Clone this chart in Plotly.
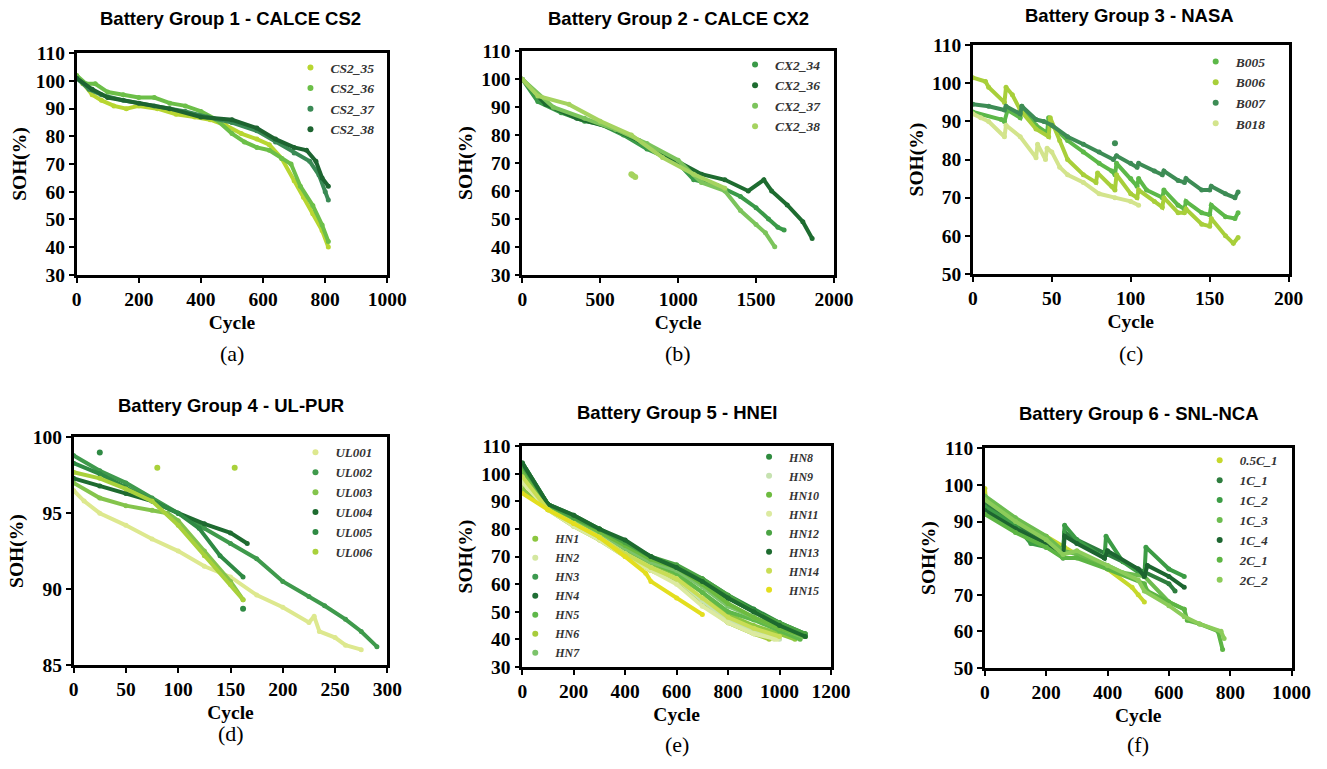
import plotly.graph_objects as go

# ---- Group 1 : CALCE CS2 ----
cs2_35_x = [0, 20, 50, 80, 120, 160, 200, 260, 320, 380, 430, 480, 530, 580, 620, 660, 700, 730, 760, 790, 810]
cs2_35_y = [102, 99, 95, 93, 91, 90, 91, 90, 88, 87, 86, 84, 81, 79, 77, 72, 64, 58, 52, 46, 40]
cs2_36_x = [0, 30, 60, 100, 150, 200, 250, 300, 350, 400, 450, 500, 540, 580, 620, 660, 690, 720, 760, 790, 810]
cs2_36_y = [102, 99, 99, 96, 95, 94, 94, 92, 91, 89, 86, 81, 78, 76, 75, 72, 70, 62, 55, 48, 42]
cs2_37_x = [0, 40, 80, 150, 250, 350, 420, 500, 580, 640, 700, 750, 780, 800, 810]
cs2_37_y = [101, 97, 95, 93, 91, 89, 87, 85, 82, 78, 74, 71, 66, 60, 57]
cs2_38_x = [0, 50, 100, 200, 300, 400, 500, 580, 640, 700, 740, 770, 790, 810]
cs2_38_y = [101, 97, 94, 92, 90, 87, 86, 83, 79, 76, 75, 71, 65, 62]

# ---- Group 2 : CALCE CX2 ----
cx2_34_x = [0, 100, 250, 400, 500, 650, 800, 1000, 1100, 1250, 1400, 1500, 1580, 1640, 1680]
cx2_34_y = [100, 92, 88, 85, 84, 80, 75, 70, 64, 62, 58, 54, 50, 47, 46]
cx2_36_x = [0, 150, 350, 550, 750, 950, 1150, 1300, 1450, 1550, 1600, 1700, 1800, 1860]
cx2_36_y = [100, 91, 86, 83, 78, 72, 66, 64, 60, 64, 60, 55, 49, 43]
cx2_37_x = [0, 200, 400, 600, 800, 1000, 1150, 1300, 1400, 1500, 1560, 1620]
cx2_37_y = [100, 90, 86, 82, 77, 71, 63, 60, 53, 48, 45, 40]
cx2_38_x = [0, 100, 300, 500, 700, 900, 1100, 1300]
cx2_38_y = [100, 94, 91, 85, 80, 72, 66, 61]
cx2_38_out_x = [700, 710, 725]
cx2_38_out_y = [66, 65.5, 65]

# ---- Group 3 : NASA ----
b005_x = [0, 18, 20, 22, 30, 31, 40, 47, 48, 50, 60, 70, 80, 88, 90, 91, 100, 104, 105, 110, 120, 121, 130, 134, 135, 145, 150, 151, 160, 166, 168]
b005_y = [92.5, 90.5, 90, 93, 91, 94, 89, 87, 91, 89, 85, 82, 79, 77, 76, 79, 75, 73, 75, 72, 70, 72, 68, 67, 69, 66, 65.5, 68, 65, 64.5, 66]
b006_x = [0, 8, 10, 20, 21, 25, 30, 40, 48, 49, 55, 60, 70, 78, 79, 88, 90, 91, 100, 104, 105, 115, 120, 121, 130, 134, 135, 145, 150, 151, 160, 165, 168]
b006_y = [101.5, 100.5, 99, 95, 99, 97, 93, 88, 86, 91, 85, 80, 76, 74, 76.5, 73, 72, 76, 71, 70, 72, 69, 67.5, 70, 66, 66, 67, 63, 62.5, 64.5, 60, 58, 59.5]
b007_x = [0, 10, 20, 21, 30, 31, 40, 45, 50, 60, 70, 80, 89, 91, 100, 104, 105, 115, 120, 121, 130, 134, 135, 145, 150, 151, 160, 166, 168]
b007_y = [94.5, 94, 93, 94, 92, 94, 90.5, 90, 89, 86, 84, 82, 80, 81, 79, 78, 79, 77, 76, 77, 74.5, 74, 75, 72, 72, 73, 71, 70, 71.5]
b007_out_x = [90]
b007_out_y = [84.3]
b018_x = [0, 5, 10, 20, 21, 30, 40, 41, 46, 47, 50, 55, 60, 70, 80, 90, 100, 105]
b018_y = [92, 91, 90, 86, 89, 86, 80.5, 84, 80, 83, 82, 78, 76, 74, 71, 70, 69, 68]

# ---- Group 4 : UL-PUR ----
ul001_x = [0, 10, 25, 50, 75, 100, 125, 150, 175, 200, 225, 230, 235, 250, 260, 275]
ul001_y = [96.5, 95.8, 95, 94.2, 93.3, 92.5, 91.5, 90.8, 89.6, 88.8, 87.8, 88.2, 87.2, 86.8, 86.3, 86]
ul002_x = [0, 25, 50, 75, 100, 125, 150, 175, 200, 225, 240, 260, 275, 290]
ul002_y = [98.8, 97.8, 97, 96, 95, 94, 93, 92, 90.5, 89.5, 88.9, 88, 87.2, 86.2]
ul003_x = [0, 25, 50, 75, 90, 100, 125, 150, 162]
ul003_y = [97, 96, 95.5, 95.2, 95, 94.5, 92.5, 90.5, 89.3]
ul004_x = [0, 25, 50, 75, 100, 125, 150, 166]
ul004_y = [97.3, 96.8, 96.3, 95.8, 95, 94.3, 93.7, 93]
ul005_x = [0, 25, 50, 75, 100, 120, 140, 162]
ul005_y = [98.3, 97.6, 96.7, 95.8, 95, 94, 92.2, 90.8]
ul005_out_x = [25, 162]
ul005_out_y = [99, 88.7]
ul006_x = [0, 25, 50, 75, 100, 125, 150, 162]
ul006_y = [97.7, 97.3, 96.6, 95.8, 94.2, 92.2, 90.3, 89.3]
ul006_out_x = [80, 154]
ul006_out_y = [98, 98]

# ---- Group 5 : HNEI ----
hn_names = ["HN1", "HN2", "HN3", "HN4", "HN5", "HN6", "HN7",
            "HN8", "HN9", "HN10", "HN11", "HN12", "HN13", "HN14", "HN15"]
hn_x = [
    [0, 5, 100, 200, 300, 400, 500, 600, 700, 800, 900, 1000, 1060],
    [0, 100, 200, 300, 400, 500, 600, 700, 800, 900, 980],
    [0, 100, 200, 300, 400, 500, 600, 700, 800, 900, 1000, 1090],
    [0, 100, 200, 300, 400, 500, 600, 700, 720, 800, 900, 1000, 1100],
    [0, 100, 200, 300, 400, 500, 600, 700, 800, 900, 1000, 1080],
    [0, 100, 200, 300, 400, 500, 600, 700, 800, 900, 960],
    [0, 100, 200, 300, 400, 500, 600, 700, 800, 900, 1000, 1090],
    [0, 100, 200, 300, 400, 500, 600, 700, 800, 900, 1000, 1100],
    [0, 100, 200, 300, 400, 500, 600, 700, 800, 900, 1000],
    [0, 100, 200, 300, 400, 500, 600, 700, 800, 900, 1000, 1100],
    [0, 100, 200, 300, 400, 500, 600, 700, 800, 900, 990],
    [0, 100, 200, 300, 400, 500, 600, 700, 800, 900, 1000, 1100],
    [0, 100, 200, 300, 400, 500, 600, 700, 800, 900, 1000, 1100],
    [0, 100, 200, 300, 400, 500, 600, 700, 800, 900, 1000],
    [0, 100, 200, 300, 400, 480, 500, 600, 700],
]
hn_y = [
    [100, 94, 88, 83, 78, 72, 67, 63, 57, 49, 45, 42, 40],
    [97, 87, 82, 77, 71, 65, 61, 53, 46, 42, 40],
    [104, 89, 84, 79, 74, 69, 65, 60, 55, 50, 46, 42],
    [103, 89, 84, 80, 75, 69, 66, 61, 58, 55, 50, 45, 41],
    [101, 88, 83, 78, 73, 68, 64, 57, 50, 47, 43, 40],
    [99, 87, 81, 76, 70, 65, 61, 53, 46, 42, 40],
    [102, 88, 83, 78, 73, 68, 65, 59, 52, 48, 44, 41],
    [104, 89, 85, 80, 75, 70, 66, 62, 56, 51, 46, 42],
    [98, 87, 82, 77, 71, 66, 62, 54, 47, 43, 40],
    [102, 88, 84, 79, 74, 69, 66, 60, 53, 48, 44, 41],
    [97, 87, 81, 76, 70, 65, 60, 52, 46, 42, 40],
    [103, 89, 84, 80, 75, 70, 67, 62, 56, 50, 46, 42],
    [104, 89, 85, 80, 76, 70, 66, 61, 55, 50, 45, 41],
    [99, 87, 82, 77, 71, 66, 62, 55, 48, 44, 41],
    [93, 87, 82, 77, 70, 64, 61, 55, 49],
]
hn_colors = ["#8cc63f", "#d4e7a0", "#3d9a50", "#1f6e35", "#5fb84a", "#a8cc3c", "#7cc36a",
             "#2e8b3e", "#c6e2b0", "#6dbb3f", "#dceaa0", "#4aa343", "#1d6b2f", "#c9dd55", "#e3de1e"]

# ---- Group 6 : SNL-NCA ----
c05_1_x = [0, 5, 100, 200, 260, 300, 400, 480, 500, 520]
c05_1_y = [99, 95, 90, 86, 83, 81, 77, 72, 70, 68]
c1_1_x = [0, 100, 200, 255, 260, 300, 400, 500, 520, 600, 620]
c1_1_y = [95, 89, 85, 82, 87, 85, 81, 77, 76, 73, 71]
c1_2_x = [0, 100, 150, 200, 255, 260, 300, 390, 395, 450, 520, 525, 600, 650]
c1_2_y = [94, 89, 84, 83, 81, 89, 85, 80, 86, 79, 75, 83, 77, 75]
c1_3_x = [0, 100, 200, 255, 300, 400, 450, 520, 600, 650]
c1_3_y = [97, 91, 86, 82, 81, 78, 76, 75, 68, 66]
c1_4_x = [0, 100, 200, 255, 260, 300, 390, 400, 500, 520, 530, 600, 650]
c1_4_y = [93, 88, 84, 80, 86, 84, 80, 82, 77, 75, 78, 75, 72]
c2_1_x = [0, 100, 200, 255, 300, 400, 520, 530, 600, 650, 660, 700, 760, 775]
c2_1_y = [92, 87, 83, 80, 80, 77, 73, 71, 68, 66, 63, 62, 60, 55]
c2_2_x = [0, 100, 200, 255, 300, 400, 500, 520, 600, 650, 700, 770, 780]
c2_2_y = [96, 90, 85, 81, 82, 78, 74, 71, 67, 64, 62, 60, 58]

SERIF = "Liberation Serif"
SANS = "Liberation Sans"

fig = go.Figure()


def add_series(n, name, xs, ys, color, legend, out_x=None, out_y=None):
    ax = dict(xaxis="x%d" % n, yaxis="y%d" % n)
    fig.add_trace(go.Scatter(x=xs, y=ys, mode="lines+markers", line=dict(color=color, width=4),
                             marker=dict(color=color, size=5), showlegend=False, name=name, **ax))
    if out_x:
        # stray points, not joined to the curve
        fig.add_trace(go.Scatter(x=out_x, y=out_y, mode="markers", marker=dict(color=color, size=6),
                                 showlegend=False, name=name, **ax))
    # legend entry shows just a dot, like the original
    fig.add_trace(go.Scatter(x=[None], y=[None], mode="markers", marker=dict(color=color, size=6),
                             name=name, legend=legend, **ax))


add_series(1, "CS2_35", cs2_35_x, cs2_35_y, "#b8d631", "legend")
add_series(1, "CS2_36", cs2_36_x, cs2_36_y, "#6cbf48", "legend")
add_series(1, "CS2_37", cs2_37_x, cs2_37_y, "#3a8a55", "legend")
add_series(1, "CS2_38", cs2_38_x, cs2_38_y, "#1d6430", "legend")

add_series(2, "CX2_34", cx2_34_x, cx2_34_y, "#3a9a48", "legend2")
add_series(2, "CX2_36", cx2_36_x, cx2_36_y, "#1e6c30", "legend2")
add_series(2, "CX2_37", cx2_37_x, cx2_37_y, "#7cc45c", "legend2")
add_series(2, "CX2_38", cx2_38_x, cx2_38_y, "#a5d35f", "legend2", cx2_38_out_x, cx2_38_out_y)

add_series(3, "B005", b005_x, b005_y, "#5cb848", "legend3")
add_series(3, "B006", b006_x, b006_y, "#a8cf3a", "legend3")
add_series(3, "B007", b007_x, b007_y, "#3d8c55", "legend3", b007_out_x, b007_out_y)
add_series(3, "B018", b018_x, b018_y, "#d3e48c", "legend3")

add_series(4, "UL001", ul001_x, ul001_y, "#dde88e", "legend4")
add_series(4, "UL002", ul002_x, ul002_y, "#3f9a4c", "legend4")
add_series(4, "UL003", ul003_x, ul003_y, "#84c44c", "legend4")
add_series(4, "UL004", ul004_x, ul004_y, "#1e6b30", "legend4")
add_series(4, "UL005", ul005_x, ul005_y, "#2f8a44", "legend4", ul005_out_x, ul005_out_y)
add_series(4, "UL006", ul006_x, ul006_y, "#a9d13b", "legend4", ul006_out_x, ul006_out_y)

for i in range(15):
    add_series(5, hn_names[i], hn_x[i], hn_y[i], hn_colors[i], "legend6" if i < 7 else "legend5")

add_series(6, "0.5C_1", c05_1_x, c05_1_y, "#c6d82c", "legend7")
add_series(6, "1C_1", c1_1_x, c1_1_y, "#2e7d3e", "legend7")
add_series(6, "1C_2", c1_2_x, c1_2_y, "#3c9c45", "legend7")
add_series(6, "1C_3", c1_3_x, c1_3_y, "#6cbc4f", "legend7")
add_series(6, "1C_4", c1_4_x, c1_4_y, "#1d6530", "legend7")
add_series(6, "2C_1", c2_1_x, c2_1_y, "#5db544", "legend7")
add_series(6, "2C_2", c2_2_x, c2_2_y, "#8ccc5a", "legend7")

W, H = 1327, 769
# measured mapping from figure pixels to the photographed page (body margin removed below)
SX, AX = 0.982, 4.3
SY, AY = 0.975, 8.6


def px(v):
    return (v - AX) / SX / W


def py(v):
    return 1 - (v - AY) / SY / H


# plot boxes in screen pixels: left, right, top, bottom
boxes = [(76, 387, 52, 274), (522, 834, 50, 274), (973, 1289, 44, 273),
         (73, 387, 437, 665), (522, 831, 446, 667), (985, 1292, 448, 668)]
xr = [(0, 1000, 200), (0, 2000, 500), (0, 200, 50), (0, 300, 50), (0, 1200, 200), (0, 1000, 200)]
yr = [(30, 110, 10), (30, 110, 10), (50, 110, 10), (85, 100, 5), (30, 110, 10), (50, 110, 10)]
titles = ["Battery Group 1 - CALCE CS2", "Battery Group 2 - CALCE CX2", "Battery Group 3 - NASA",
          "Battery Group 4 - UL-PUR", "Battery Group 5 - HNEI", "Battery Group 6 - SNL-NCA"]
title_y = [17, 17, 14, 405, 412, 413]
title_x = [230, 678, 1130, 230, 677, 1139]
sub_labels = ["(a)", "(b)", "(c)", "(d)", "(e)", "(f)"]
sub_y = [353, 353, 353, 734, 745, 745]

tickfont = dict(family=SERIF, size=19.5, color="black", weight="bold")
axfont = dict(family=SERIF, size=19.5, color="black", weight="bold")
layout = {}
annotations = []
for k in range(6):
    l, r, t, b = boxes[k]
    sfx = "" if k == 0 else str(k + 1)
    common = dict(showline=True, linecolor="black", linewidth=2.5, mirror=True, ticks="outside",
                  ticklen=5, tickwidth=2, tickcolor="black", showgrid=False, zeroline=False,
                  tickfont=tickfont)
    layout["xaxis" + sfx] = dict(domain=[px(l), px(r)], range=[xr[k][0], xr[k][1]], dtick=xr[k][2],
                                 tick0=0, anchor="y" + sfx,
                                 title=dict(text="Cycle", font=axfont, standoff=7), **common)
    layout["yaxis" + sfx] = dict(domain=[py(b), py(t)], range=[yr[k][0], yr[k][1]], dtick=yr[k][2],
                                 tick0=0, anchor="x" + sfx,
                                 title=dict(text="SOH(%)", font=axfont, standoff=4), **common)
    annotations.append(dict(text="<b>" + titles[k] + "</b>", x=px(title_x[k]), y=py(title_y[k]),
                            xref="paper", yref="paper", showarrow=False, xanchor="center",
                            yanchor="middle", font=dict(family=SANS, size=18.5, color="black")))
    annotations.append(dict(text=sub_labels[k], x=px((l + r) / 2), y=py(sub_y[k]), xref="paper",
                            yref="paper", showarrow=False, xanchor="center", yanchor="middle",
                            font=dict(family=SERIF, size=22, color="black")))

# legend anchor points (dot x, first entry y) in screen pixels, and text size
leg_pos = {"legend": (310, 67, 13.5), "legend2": (755, 64, 13.5), "legend3": (1216, 61, 13.5),
           "legend4": (315, 453, 13), "legend5": (769, 458, 12), "legend6": (535, 540, 12),
           "legend7": (1220, 461, 13)}
for key, (dx, dy, fs) in leg_pos.items():
    layout[key] = dict(x=px(dx - 20), y=py(dy - 16), xanchor="left", yanchor="top",
                       bgcolor="rgba(0,0,0,0)", itemwidth=30,
                       font=dict(family=SERIF, size=fs, color="#333333", weight="bold", style="italic"))

fig.update_layout(width=W, height=H, margin=dict(l=0, r=0, t=0, b=0), plot_bgcolor="white",
                  paper_bgcolor="white", annotations=annotations, **layout)

fig.write_html("out.html", config={"displayModeBar": False},
               post_script="document.body.style.margin = '0px';")
